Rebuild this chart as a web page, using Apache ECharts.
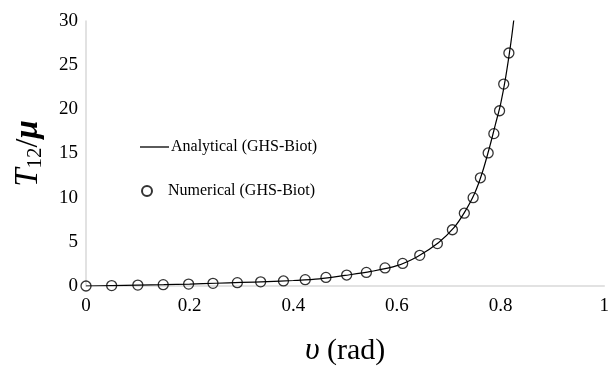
<!DOCTYPE html>
<html>
<head>
<meta charset="utf-8">
<script src="https://cdn.jsdelivr.net/npm/echarts@6/dist/echarts.min.js"></script>
<style>
html,body{margin:0;padding:0;background:#fff;}
#c{width:612px;height:372px;}
</style>
</head>
<body>
<div id="c"></div>
<script>
// Numerical (GHS-Biot) points
var numX = [0, 0.0495, 0.100, 0.149, 0.198, 0.245, 0.292, 0.337, 0.381, 0.423, 0.463, 0.503, 0.541, 0.577, 0.611, 0.644, 0.678, 0.707, 0.730, 0.747, 0.761, 0.776, 0.787, 0.798, 0.806, 0.816];
var numY = [0, 0.05, 0.10, 0.15, 0.22, 0.30, 0.38, 0.47, 0.57, 0.72, 0.97, 1.24, 1.54, 2.05, 2.56, 3.47, 4.80, 6.37, 8.24, 10.0, 12.25, 15.06, 17.25, 19.84, 22.86, 26.38];
// Analytical (GHS-Biot) curve
var anaX = [0, 0.05, 0.10, 0.15, 0.20, 0.25, 0.30, 0.35, 0.40, 0.45, 0.50, 0.55, 0.60, 0.64, 0.68, 0.71, 0.73, 0.75, 0.765, 0.78, 0.79, 0.80, 0.81, 0.82, 0.826];
var anaY = [0, 0.05, 0.10, 0.15, 0.22, 0.31, 0.40, 0.50, 0.62, 0.80, 1.20, 1.65, 2.30, 3.35, 4.90, 6.60, 8.30, 10.5, 12.9, 16.0, 18.3, 20.6, 23.7, 27.6, 30.4];
var xTicks = [0, 0.2, 0.4, 0.6, 0.8, 1];
var yTicks = [0, 5, 10, 15, 20, 25, 30];
var seriesNames = ['Analytical (GHS-Biot)', 'Numerical (GHS-Biot)'];

function zip(a, b) { return a.map(function (v, i) { return [v, b[i]]; }); }

var FONT = '"Liberation Serif", "Times New Roman", serif';
var legendText = {fontFamily: FONT, fontSize: 16, color: '#000'};
var chart = echarts.init(document.getElementById('c'), null, {renderer: 'canvas'});
chart.setOption({
  animation: false,
  backgroundColor: '#fff',
  textStyle: {fontFamily: FONT},
  grid: {left: 86, right: 1, top: 21, bottom: 79, containLabel: false},
  legend: [
    {
      orient: 'vertical',
      left: 135,
      top: 134,
      itemWidth: 29,
      itemHeight: 1.3,
      icon: 'rect',
      textStyle: Object.assign({padding: [0, 0, 0, -3]}, legendText),
      data: [{name: seriesNames[0]}]
    },
    {
      orient: 'vertical',
      left: 136,
      top: 178,
      itemWidth: 12,
      itemHeight: 10,
      icon: 'circle',
      textStyle: Object.assign({padding: [0, 0, 0, 10]}, legendText),
      data: [{name: seriesNames[1]}]
    }
  ],
  xAxis: {
    type: 'value',
    min: xTicks[0],
    max: xTicks[xTicks.length - 1],
    interval: 0.2,
    name: '{i|υ} (rad)',
    nameLocation: 'middle',
    nameGap: 49,
    nameTextStyle: {
      fontFamily: FONT, fontSize: 30, color: '#000',
      rich: {i: {fontFamily: FONT, fontSize: 32, fontStyle: 'italic', color: '#000'}}
    },
    axisLine: {show: true, lineStyle: {color: '#d9d9d9', width: 1.5}},
    axisTick: {show: false},
    splitLine: {show: false},
    axisLabel: {fontFamily: FONT, fontSize: 19, color: '#000', margin: 11}
  },
  yAxis: {
    type: 'value',
    min: yTicks[0],
    max: yTicks[yTicks.length - 1],
    interval: 5,
    name: '{t|T}{s|12}{n|/}{m|μ}',
    nameLocation: 'middle',
    nameRotate: 90,
    nameGap: 40,
    nameTextStyle: {
      fontFamily: FONT, fontSize: 32, color: '#000',
      rich: {
        t: {fontFamily: FONT, fontSize: 33, fontStyle: 'italic', color: '#000'},
        s: {fontFamily: FONT, fontSize: 21, color: '#000', padding: [14, 0, 0, 0]},
        n: {fontFamily: FONT, fontSize: 32, color: '#000'},
        m: {fontFamily: FONT, fontSize: 33, fontStyle: 'italic', fontWeight: 'bold', color: '#000'}
      }
    },
    axisLine: {show: true, lineStyle: {color: '#d9d9d9', width: 1.5}},
    axisTick: {show: false},
    splitLine: {show: false},
    axisLabel: {fontFamily: FONT, fontSize: 19, color: '#000', margin: 8}
  },
  series: [
    {
      name: seriesNames[0],
      type: 'line',
      data: zip(anaX, anaY),
      showSymbol: false,
      symbol: 'none',
      smooth: 0.3,
      clip: true,
      lineStyle: {color: '#000', width: 1.2},
      itemStyle: {color: '#000'},
      z: 2
    },
    {
      name: seriesNames[1],
      type: 'scatter',
      data: zip(numX, numY),
      symbol: 'circle',
      symbolSize: 10,
      itemStyle: {color: 'rgba(255,255,255,0)', borderColor: '#000', borderWidth: 1.3},
      z: 3
    }
  ]
});
</script>
</body>
</html>
